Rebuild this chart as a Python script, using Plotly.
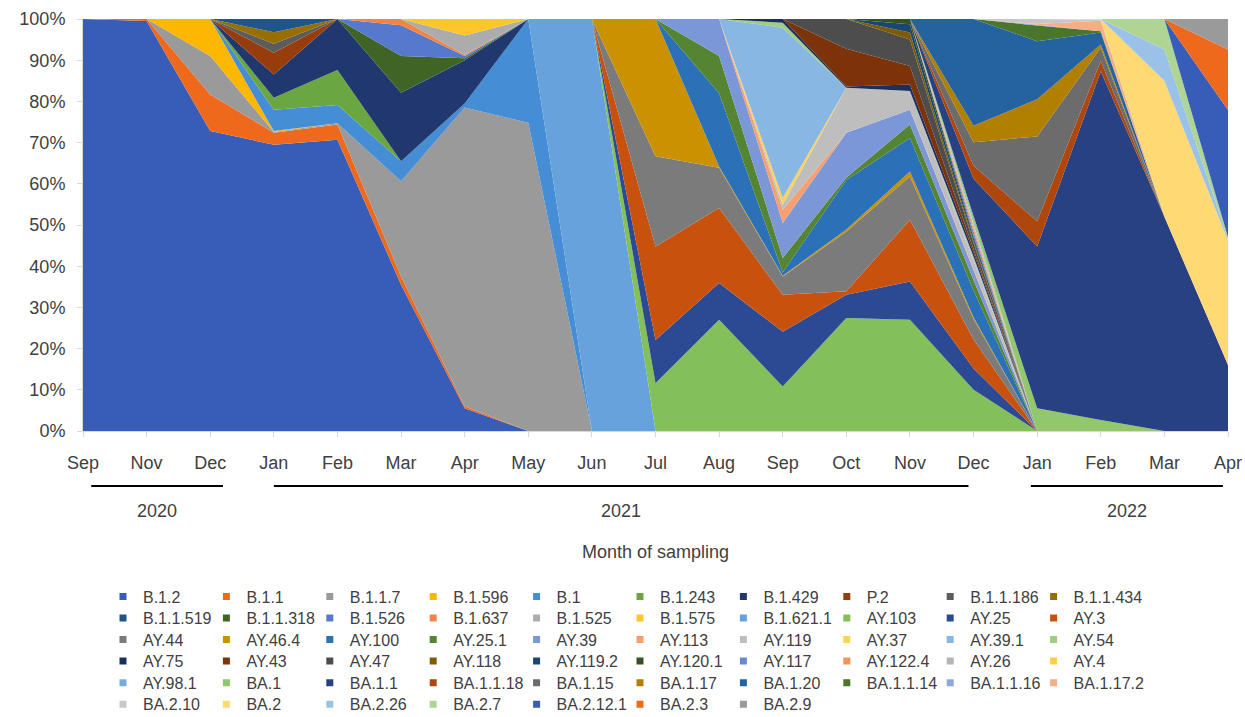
import colorsys
import plotly.graph_objects as go

# ---------------- data ----------------
months = ["Sep", "Nov", "Dec", "Jan", "Feb", "Mar", "Apr", "May", "Jun", "Jul",
          "Aug", "Sep", "Oct", "Nov", "Dec", "Jan", "Feb", "Mar", "Apr"]
years = ["2020", "2021", "2022"]
year_month_spans = [(0, 2), (3, 14), (15, 18)]   # first / last month index of each year
pct_ticks = [0, 10, 20, 30, 40, 50, 60, 70, 80, 90, 100]

#            Sep  Nov   Dec   Jan   Feb   Mar   Apr   May  Jun    Jul   Aug   Sep   Oct   Nov   Dec   Jan   Feb   Mar   Apr
B_1_2     = [100, 99.5, 72.8, 69.5, 70.7, 35.5, 5.5,  0,    0,    0,    0,    0,    0,    0,    0,    0,    0,    0,    0]
B_1_1     = [0,   0.5,  8.9,  2.9,  3.7,  2.0,  0.5,  0,    0,    0,    0,    0,    0,    0,    0,    0,    0,    0,    0]
B_1_1_7   = [0,   0,    9.3,  0.2,  0.3,  23.1, 72.5, 74.8, 0,    0,    0,    0,    0,    0,    0,    0,    0,    0,    0]
B_1_596   = [0,   0,    9.0,  0.2,  0,    0,    0,    0,    0,    0,    0,    0,    0,    0,    0,    0,    0,    0,    0]
B_1       = [0,   0,    0,    5.2,  4.4,  4.9,  1.0,  25.2, 0,    0,    0,    0,    0,    0,    0,    0,    0,    0,    0]
B_1_243   = [0,   0,    0,    2.9,  8.5,  0,    0,    0,    0,    0,    0,    0,    0,    0,    0,    0,    0,    0,    0]
B_1_429   = [0,   0,    0,    5.6,  12.4, 16.6, 10.5, 0,    0,    0,    0,    0,    0,    0,    0,    0,    0,    0,    0]
P_2       = [0,   0,    0,    5.3,  0,    0,    0,    0,    0,    0,    0,    0,    0,    0,    0,    0,    0,    0,    0]
B_1_1_186 = [0,   0,    0,    2.2,  0,    0,    0,    0,    0,    0,    0,    0,    0,    0,    0,    0,    0,    0,    0]
B_1_1_434 = [0,   0,    0,    2.8,  0,    0,    0,    0,    0,    0,    0,    0,    0,    0,    0,    0,    0,    0,    0]
B_1_1_519 = [0,   0,    0,    3.2,  0,    0,    0,    0,    0,    0,    0,    0,    0,    0,    0,    0,    0,    0,    0]
B_1_1_318 = [0,   0,    0,    0,    0,    8.9,  0.5,  0,    0,    0,    0,    0,    0,    0,    0,    0,    0,    0,    0]
B_1_526   = [0,   0,    0,    0,    0,    7.5,  0.5,  0,    0,    0,    0,    0,    0,    0,    0,    0,    0,    0,    0]
B_1_637   = [0,   0,    0,    0,    0,    1.5,  0.3,  0,    0,    0,    0,    0,    0,    0,    0,    0,    0,    0,    0]
B_1_525   = [0,   0,    0,    0,    0,    0,    4.7,  0,    0,    0,    0,    0,    0,    0,    0,    0,    0,    0,    0]
B_1_575   = [0,   0,    0,    0,    0,    0,    4.0,  0,    0,    0,    0,    0,    0,    0,    0,    0,    0,    0,    0]
B_1_621_1 = [0,   0,    0,    0,    0,    0,    0,    0,    100,  0,    0,    0,    0,    0,    0,    0,    0,    0,    0]
AY_103    = [0,   0,    0,    0,    0,    0,    0,    0,    0,    11.6, 27.0, 10.8, 27.4, 27.0, 10.0, 0,    0,    0,    0]
AY_25     = [0,   0,    0,    0,    0,    0,    0,    0,    0,    10.5, 8.9,  13.3, 5.7,  9.3,  5.2,  0,    0,    0,    0]
AY_3      = [0,   0,    0,    0,    0,    0,    0,    0,    0,    22.7, 18.2, 9.0,  0.8,  15.0, 7.0,  0,    0,    0,    0]
AY_44     = [0,   0,    0,    0,    0,    0,    0,    0,    0,    21.9, 9.8,  4.4,  14.5, 10.5, 5.0,  0,    0,    0,    0]
AY_46_4   = [0,   0,    0,    0,    0,    0,    0,    0,    0,    33.3, 0.3,  0.2,  0.5,  1.2,  0.4,  0,    0,    0,    0]
AY_100    = [0,   0,    0,    0,    0,    0,    0,    0,    0,    0,    17.8, 0.8,  12.0, 8.1,  6.5,  0,    0,    0,    0]
AY_25_1   = [0,   0,    0,    0,    0,    0,    0,    0,    0,    0,    9.0,  3.5,  0.6,  3.3,  2.5,  0,    0,    0,    0]
AY_39     = [0,   0,    0,    0,    0,    0,    0,    0,    0,    0,    9.0,  8.5,  10.9, 3.6,  2.4,  0,    0,    0,    0]
AY_113    = [0,   0,    0,    0,    0,    0,    0,    0,    0,    0,    0,    3.2,  0,    0,    0.3,  0,    0,    0,    0]
AY_119    = [0,   0,    0,    0,    0,    0,    0,    0,    0,    0,    0,    1.2,  10.9, 4.5,  2.0,  0,    0,    0,    0]
AY_37     = [0,   0,    0,    0,    0,    0,    0,    0,    0,    0,    0,    1.7,  0,    0,    0.2,  0,    0,    0,    0]
AY_39_1   = [0,   0,    0,    0,    0,    0,    0,    0,    0,    0,    0,    41.3, 0,    0,    0.5,  0,    0,    0,    0]
AY_54     = [0,   0,    0,    0,    0,    0,    0,    0,    0,    0,    0,    1.2,  0,    0,    0.3,  0,    0,    0,    0]
AY_75     = [0,   0,    0,    0,    0,    0,    0,    0,    0,    0,    0,    0.9,  0.3,  1.6,  1.0,  0,    0,    0,    0]
AY_43     = [0,   0,    0,    0,    0,    0,    0,    0,    0,    0,    0,    0,    9.2,  4.5,  0.8,  0,    0,    0,    0]
AY_47     = [0,   0,    0,    0,    0,    0,    0,    0,    0,    0,    0,    0,    7.2,  6.4,  1.5,  0,    0,    0,    0]
AY_118    = [0,   0,    0,    0,    0,    0,    0,    0,    0,    0,    0,    0,    0,    1.7,  0.5,  0,    0,    0,    0]
AY_119_2  = [0,   0,    0,    0,    0,    0,    0,    0,    0,    0,    0,    0,    0,    2.0,  0.8,  0,    0,    0,    0]
AY_120_1  = [0,   0,    0,    0,    0,    0,    0,    0,    0,    0,    0,    0,    0,    1.3,  0.5,  0,    0,    0,    0]
AY_117    = [0,   0,    0,    0,    0,    0,    0,    0,    0,    0,    0,    0,    0,    0,    1.0,  0,    0,    0,    0]
AY_122_4  = [0,   0,    0,    0,    0,    0,    0,    0,    0,    0,    0,    0,    0,    0,    0.8,  0,    0,    0,    0]
AY_26     = [0,   0,    0,    0,    0,    0,    0,    0,    0,    0,    0,    0,    0,    0,    0.8,  0,    0,    0,    0]
AY_4      = [0,   0,    0,    0,    0,    0,    0,    0,    0,    0,    0,    0,    0,    0,    0.5,  0,    0,    0,    0]
AY_98_1   = [0,   0,    0,    0,    0,    0,    0,    0,    0,    0,    0,    0,    0,    0,    0.7,  0,    0,    0,    0]
BA_1      = [0,   0,    0,    0,    0,    0,    0,    0,    0,    0,    0,    0,    0,    0,    1.0,  5.5,  2.7,  0,    0]
BA_1_1    = [0,   0,    0,    0,    0,    0,    0,    0,    0,    0,    0,    0,    0,    0,    9.0,  39.3, 84.6, 52.0, 16.0]
BA_1_1_18 = [0,   0,    0,    0,    0,    0,    0,    0,    0,    0,    0,    0,    0,    0,    3.2,  6.1,  2.5,  0,    0]
BA_1_15   = [0,   0,    0,    0,    0,    0,    0,    0,    0,    0,    0,    0,    0,    0,    5.7,  20.6, 3.2,  0,    0]
BA_1_17   = [0,   0,    0,    0,    0,    0,    0,    0,    0,    0,    0,    0,    0,    0,    4.0,  9.0,  0.8,  0,    0]
BA_1_20   = [0,   0,    0,    0,    0,    0,    0,    0,    0,    0,    0,    0,    0,    0,    25.9, 14.1, 2.9,  0,    0]
BA_1_1_14 = [0,   0,    0,    0,    0,    0,    0,    0,    0,    0,    0,    0,    0,    0,    0,    3.8,  0.3,  0,    0]
BA_1_1_16 = [0,   0,    0,    0,    0,    0,    0,    0,    0,    0,    0,    0,    0,    0,    0,    0.2,  0,    0,    0]
BA_1_17_2 = [0,   0,    0,    0,    0,    0,    0,    0,    0,    0,    0,    0,    0,    0,    0,    0.2,  2.6,  0,    0]
BA_2_10   = [0,   0,    0,    0,    0,    0,    0,    0,    0,    0,    0,    0,    0,    0,    0,    1.2,  0.2,  0,    0]
BA_2      = [0,   0,    0,    0,    0,    0,    0,    0,    0,    0,    0,    0,    0,    0,    0,    0,    0.2,  33.0, 30.2]
BA_2_26   = [0,   0,    0,    0,    0,    0,    0,    0,    0,    0,    0,    0,    0,    0,    0,    0,    0,    7.6,  0.4]
BA_2_7    = [0,   0,    0,    0,    0,    0,    0,    0,    0,    0,    0,    0,    0,    0,    0,    0,    0,    7.4,  0.4]
BA_2_12_1 = [0,   0,    0,    0,    0,    0,    0,    0,    0,    0,    0,    0,    0,    0,    0,    0,    0,    0,    30.9]
BA_2_3    = [0,   0,    0,    0,    0,    0,    0,    0,    0,    0,    0,    0,    0,    0,    0,    0,    0,    0,    14.7]
BA_2_9    = [0,   0,    0,    0,    0,    0,    0,    0,    0,    0,    0,    0,    0,    0,    0,    0,    0,    0,    7.4]

lineage_names = [
    "B.1.2", "B.1.1", "B.1.1.7", "B.1.596", "B.1", "B.1.243", "B.1.429", "P.2", "B.1.1.186", "B.1.1.434",
    "B.1.1.519", "B.1.1.318", "B.1.526", "B.1.637", "B.1.525", "B.1.575", "B.1.621.1", "AY.103", "AY.25", "AY.3",
    "AY.44", "AY.46.4", "AY.100", "AY.25.1", "AY.39", "AY.113", "AY.119", "AY.37", "AY.39.1", "AY.54",
    "AY.75", "AY.43", "AY.47", "AY.118", "AY.119.2", "AY.120.1", "AY.117", "AY.122.4", "AY.26", "AY.4",
    "AY.98.1", "BA.1", "BA.1.1", "BA.1.1.18", "BA.1.15", "BA.1.17", "BA.1.20", "BA.1.1.14", "BA.1.1.16", "BA.1.17.2",
    "BA.2.10", "BA.2", "BA.2.26", "BA.2.7", "BA.2.12.1", "BA.2.3", "BA.2.9",
]
lineage_values = [
    B_1_2, B_1_1, B_1_1_7, B_1_596, B_1, B_1_243, B_1_429, P_2, B_1_1_186, B_1_1_434,
    B_1_1_519, B_1_1_318, B_1_526, B_1_637, B_1_525, B_1_575, B_1_621_1, AY_103, AY_25, AY_3,
    AY_44, AY_46_4, AY_100, AY_25_1, AY_39, AY_113, AY_119, AY_37, AY_39_1, AY_54,
    AY_75, AY_43, AY_47, AY_118, AY_119_2, AY_120_1, AY_117, AY_122_4, AY_26, AY_4,
    AY_98_1, BA_1, BA_1_1, BA_1_1_18, BA_1_15, BA_1_17, BA_1_20, BA_1_1_14, BA_1_1_16, BA_1_17_2,
    BA_2_10, BA_2, BA_2_26, BA_2_7, BA_2_12_1, BA_2_3, BA_2_9,
]

# ---------------- style ----------------
accents = ["#3D62BE", "#EB712C", "#A0A0A0", "#FDBA0A", "#5293D3", "#6FAB45"]
tiers = [(1.0, 0.0), (0.6, 0.0), (0.8, 0.2), (0.8, 0.0), (0.6, 0.4),
         (0.5, 0.0), (0.7, 0.3), (0.7, 0.0), (0.5, 0.5), (1.0, 0.0)]


def tier_color(hex_color, mod, off):
    r, g, b = (int(hex_color[i:i + 2], 16) / 255 for i in (1, 3, 5))
    h, l, s = colorsys.rgb_to_hls(r, g, b)
    l = min(1.0, (l * mod + off) * 0.96)
    s = min(1.0, s * 1.05)
    r, g, b = colorsys.hls_to_rgb(h, l, s)
    return "#%02X%02X%02X" % (round(r * 255), round(g * 255), round(b * 255))


def series_color(i):
    mod, off = tiers[i // 6]
    return tier_color(accents[i % 6], mod, off)


TEXT = "#404040"
FONT = "Arial, Liberation Sans, sans-serif"
W, H = 1245, 717
ML, MR, MT, MB = 83, 17, 19, 286
PW, PH = W - ML - MR, H - MT - MB

x_idx = list(range(len(months)))

fig = go.Figure()
for i, (name, vals) in enumerate(zip(lineage_names, lineage_values)):
    col = series_color(i)
    fig.add_trace(go.Scatter(
        x=x_idx, y=vals, name=name, mode="none", stackgroup="one",
        groupnorm="percent" if i == 0 else None,
        fill="tonexty", fillcolor=col, legendgroup=name, showlegend=False,
        hovertemplate=name + ": %{y:.1f}%<extra></extra>",
    ))

# legend-only entries with small square swatches, one horizontal legend per row
ncols = 10
col_stride = 103.4
legend_left_px = 103
row_centers_px = [596.5, 618.0, 639.5, 661.0, 682.7, 704.2]
legend_font = 16
item_h = legend_font * 1.3 + 3
for i, name in enumerate(lineage_names):
    row, col = divmod(i, ncols)
    extra = dict(legendwidth=95) if col == ncols - 1 else {}
    fig.add_trace(go.Scatter(
        x=[None], y=[None], mode="markers", name=name, legendgroup=name,
        marker=dict(symbol="square", size=7, color=series_color(i)),
        legend="legend" if row == 0 else f"legend{row + 1}",
        showlegend=True, hoverinfo="skip", **extra,
    ))

legends = {}
for r, cy in enumerate(row_centers_px):
    top_px = cy - (item_h / 2 + 5)
    key = "legend" if r == 0 else f"legend{r + 1}"
    legends[key] = dict(
        orientation="h", x=(legend_left_px - ML) / PW, xanchor="left",
        y=(MT + PH - top_px) / PH, yanchor="top",
        entrywidth=col_stride - 45, entrywidthmode="pixels",
        font=dict(size=legend_font, color=TEXT, family=FONT),
        bgcolor="rgba(0,0,0,0)", borderwidth=0, traceorder="normal",
    )

# year brackets under the month axis
year_line_px = 486
year_label_px = 511
bracket_pad = [(0.13, 0.2), (0.0, -0.08), (-0.1, -0.08)]
shapes, annotations = [], []
for label, (a, b), (pa, pb) in zip(years, year_month_spans, bracket_pad):
    x0, x1 = a + pa, b + pb
    yl = (MT + PH - year_line_px) / PH
    shapes.append(dict(type="line", xref="x", yref="paper", x0=x0, x1=x1, y0=yl, y1=yl,
                       line=dict(color="#000000", width=2)))
    annotations.append(dict(text=label, xref="x", yref="paper",
                            x=(x0 + x1) / 2, y=(MT + PH - year_label_px) / PH,
                            xanchor="center", yanchor="middle", showarrow=False,
                            font=dict(size=18, color=TEXT, family=FONT)))
annotations.append(dict(text="Month of sampling", xref="paper", yref="paper",
                        x=0.5, y=(MT + PH - 552) / PH, xanchor="center", yanchor="middle",
                        showarrow=False, font=dict(size=18, color=TEXT, family=FONT)))

fig.update_layout(
    width=W, height=H,
    margin=dict(l=ML, r=MR, t=MT, b=MB, autoexpand=False),
    paper_bgcolor="white", plot_bgcolor="white",
    font=dict(family=FONT, color=TEXT, size=18),
    shapes=shapes, annotations=annotations,
    hovermode="x",
    **legends,
)
fig.update_xaxes(
    range=[0, len(months) - 1], tickmode="array", tickvals=x_idx, ticktext=months,
    showgrid=False, zeroline=False, showline=True, linecolor="#D9D9D9", linewidth=1,
    ticks="outside", ticklen=5, tickcolor="#D9D9D9",
    tickfont=dict(size=18, color=TEXT, family=FONT), ticklabelstandoff=10,
)
fig.update_yaxes(
    range=[0, 100], tickmode="array", tickvals=pct_ticks,
    ticktext=[f"{v}%" for v in pct_ticks],
    showgrid=False, zeroline=False, showline=True, linecolor="#D9D9D9", linewidth=1,
    ticks="outside", ticklen=5, tickcolor="#D9D9D9",
    tickfont=dict(size=18, color=TEXT, family=FONT), ticklabelstandoff=8,
)

# remove the browser's default 8px page margin so the figure sits at the window origin
fig.write_html("out.html", config={"displayModeBar": False},
               post_script="document.body.style.margin='0px';")
